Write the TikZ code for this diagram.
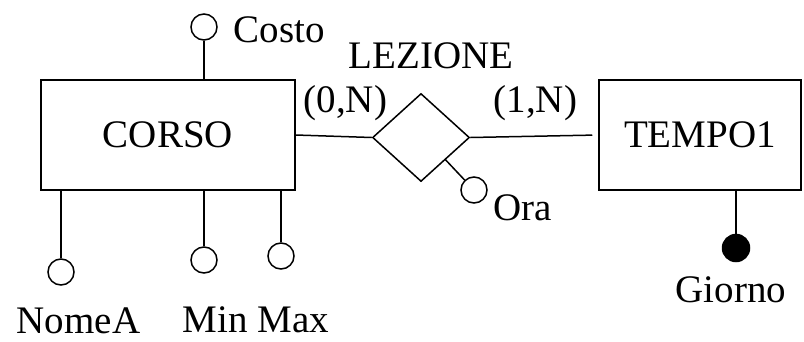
\documentclass[tikz,border=0pt]{standalone}
\usepackage{fontspec}
\setmainfont{Liberation Serif}
\usetikzlibrary{shapes.geometric,calc}
\begin{document}
\begin{tikzpicture}[x=1pt,y=-1pt,line width=1.5pt,
  every node/.style={font=\fontsize{39}{46}\selectfont},
  entity/.style={draw,rectangle,inner sep=0pt,minimum height=110pt},
  relbox/.style={draw,diamond,inner sep=0pt,minimum width=97pt,minimum height=88pt},
  attr/.style={draw,circle,inner sep=0pt,minimum size=26pt},
  keyattr/.style={draw,fill=black,circle,inner sep=0pt,minimum size=27pt},
  lbl/.style={inner sep=0pt,anchor=base west}]
\useasboundingbox (0,0) rectangle (804,341);
% entities
\node[entity,minimum width=254pt] (corso) at (168,135) {CORSO};
\node[entity,minimum width=202pt] (tempo) at (700,135) {TEMPO1};
% relationship
\node[relbox] (rel) at (421,137.5) {};
\node[lbl] (lez) at (348,68) {LEZIONE};
\node[lbl] (card1) at (303,112) {(0,N)};
\node[lbl] (card2) at (493,112) {(1,N)};
\draw (corso.east) -- (rel.west);
\draw[shorten >=6pt] (rel.east) -- (tempo.west);
% attributes of CORSO
\node[attr] (costoC) at (204,27) {};
\node[lbl] (costo) at (233,42) {Costo};
\draw (costoC.south) -- (costoC.south |- corso.north);
\node[attr] (nomeC) at (61,272) {};
\node[lbl] (nome) at (16,333) {NomeA};
\draw (nomeC.north) -- (nomeC.north |- corso.south);
\node[attr] (minC) at (204,260) {};
\draw (minC.north) -- (minC.north |- corso.south);
\node[attr] (maxC) at (281,256) {};
\draw (maxC.north) -- (maxC.north |- corso.south);
\node[lbl] (minmax) at (182,332) {Min Max};
% attribute of LEZIONE
\node[attr] (oraC) at (474,190) {};
\node[lbl] (ora) at (493,220) {Ora};
\coordinate (oraP) at ($(rel.east)!0.5!(rel.south)$);
\draw (oraP) -- (oraC);
% attribute of TEMPO1
\node[keyattr] (giornoC) at (736,248) {};
\node[lbl] (giorno) at (675,302) {Giorno};
\draw (giornoC.north) -- (giornoC.north |- tempo.south);
\end{tikzpicture}
\end{document}
